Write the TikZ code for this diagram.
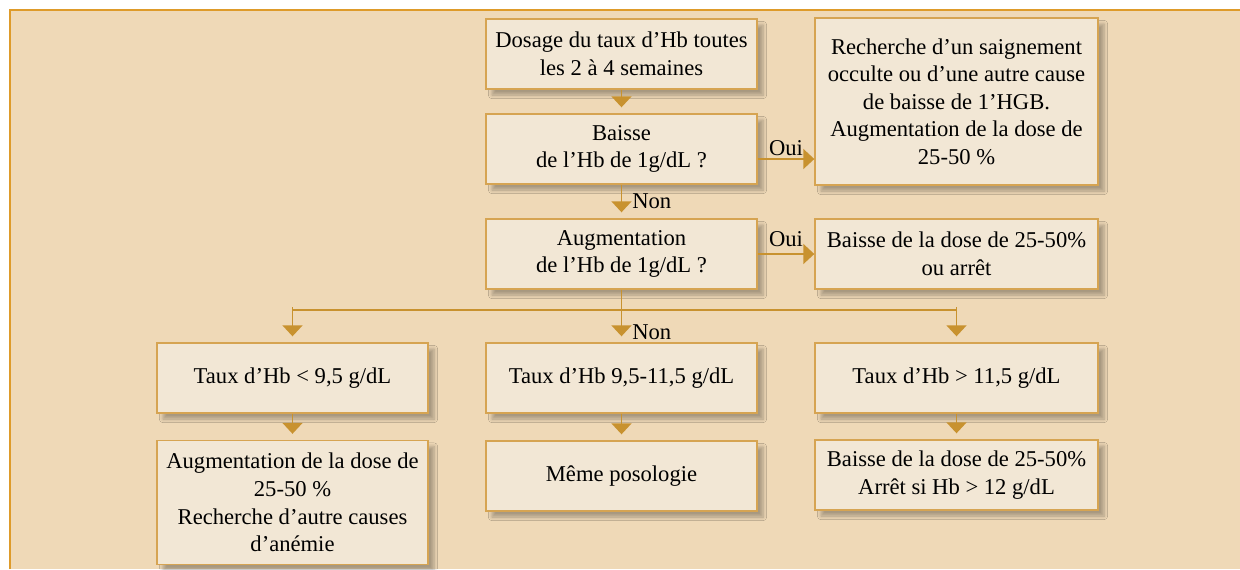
\documentclass[tikz,border=0pt]{standalone}
\usepackage{fontspec}
\setmainfont{Liberation Serif}
\usetikzlibrary{arrows.meta,shadows.blur}
\definecolor{fondbeige}{HTML}{EFD9B7}
\definecolor{boitecreme}{HTML}{F2E7D5}
\definecolor{bordtan}{HTML}{D6A452}
\definecolor{flecheor}{HTML}{C8922F}
\definecolor{cadreorange}{HTML}{DE9B2A}
\tikzset{
  boite/.style={draw=bordtan, line width=0.7pt, fill=boitecreme, align=center,
    inner sep=2pt, minimum width=135.5pt, minimum height=35pt,
    font=\fontsize{11.3}{13.8}\selectfont,
    blur shadow={shadow xshift=3pt, shadow yshift=-3pt, shadow blur steps=6, shadow opacity=30}},
  large/.style={minimum width=141.5pt},
  ligne/.style={draw=flecheor, line width=0.85pt},
  fleche/.style={ligne, -{Triangle[width=10pt,length=5.5pt]}},
  vfleche/.style={fleche, shorten >=3pt},
  etiq/.style={font=\fontsize{11.3}{13.8}\selectfont, inner sep=1pt},
}
\begin{document}
\begin{tikzpicture}[x=0.5pt,y=-0.5pt]
        \useasboundingbox (0,0) rectangle (1240,569);
        %% background
        \fill[fondbeige] (10,10) rectangle (1240,569);
        \draw[cadreorange, line width=0.8pt] (10,569) -- (10,10) -- (1240,10);
        %% main column
        \node[boite] (dosage) at (621.5,54) {Dosage du taux d’Hb toutes\\les 2 à 4 semaines};
        \node[boite] (baisse) at (621.5,149) {Baisse\\de l’Hb de 1g/dL ?};
        \node[boite] (augm) at (621.5,254) {Augmentation\\de l’Hb de 1g/dL ?};
        %% right column
        \node[boite,large,minimum height=83.5pt] (recherche) at (956.5,101.5)
          {Recherche d’un saignement\\occulte ou d’une autre cause\\de baisse de 1’HGB.\\Augmentation de la dose de\\25-50 \%};
        \node[boite,large] (arret) at (956.5,254) {Baisse de la dose de 25-50\%\\ou arrêt};
        %% Hb levels
        \node[boite] (tauxbas) at (292.5,378) {Taux d’Hb < 9,5 g/dL};
        \node[boite] (tauxmoy) at (621.5,378) {Taux d’Hb 9,5-11,5 g/dL};
        \node[boite,large] (tauxhaut) at (956.5,378) {Taux d’Hb > 11,5 g/dL};
        %% actions
        \node[boite,minimum height=62pt] (augdose) at (292.5,502.5)
          {Augmentation de la dose de\\25-50 \%\\Recherche d’autre causes\\d’anémie};
        \node[boite] (meme) at (621.5,476) {Même posologie};
        \node[boite,large] (baissedose) at (956.5,475) {Baisse de la dose de 25-50\%\\Arrêt si Hb > 12 g/dL};
        %% arrows
        \draw[vfleche] (dosage) -- (baisse);
        \draw[vfleche] (baisse) -- (augm) node[etiq, midway, right, xshift=4pt] {Non};
        \draw[fleche] ([yshift=-5pt]baisse.east) -- ([yshift=-5pt]baisse.east -| recherche.west)
          node[etiq, midway, above] {Oui};
        \draw[fleche] (augm) -- (arret) node[etiq, midway, above, yshift=2pt] {Oui};
        %% branch
        \coordinate (bus) at (621.5,310);
        \draw[ligne] (augm.south) -- (bus);
        \draw[ligne] (tauxbas.north |- bus) -- (tauxhaut.north |- bus);
        \draw[vfleche] ([yshift=1.5pt]tauxbas.north |- bus) -- (tauxbas.north);
        \draw[vfleche] (bus) -- (tauxmoy.north) node[etiq, pos=0.7, right, xshift=4pt] {Non};
        \draw[vfleche] ([yshift=1.5pt]tauxhaut.north |- bus) -- (tauxhaut.north);
        \draw[vfleche] (tauxbas) -- (augdose);
        \draw[vfleche] (tauxmoy) -- (meme);
        \draw[vfleche] (tauxhaut) -- (baissedose);
    \end{tikzpicture}
\end{document}
